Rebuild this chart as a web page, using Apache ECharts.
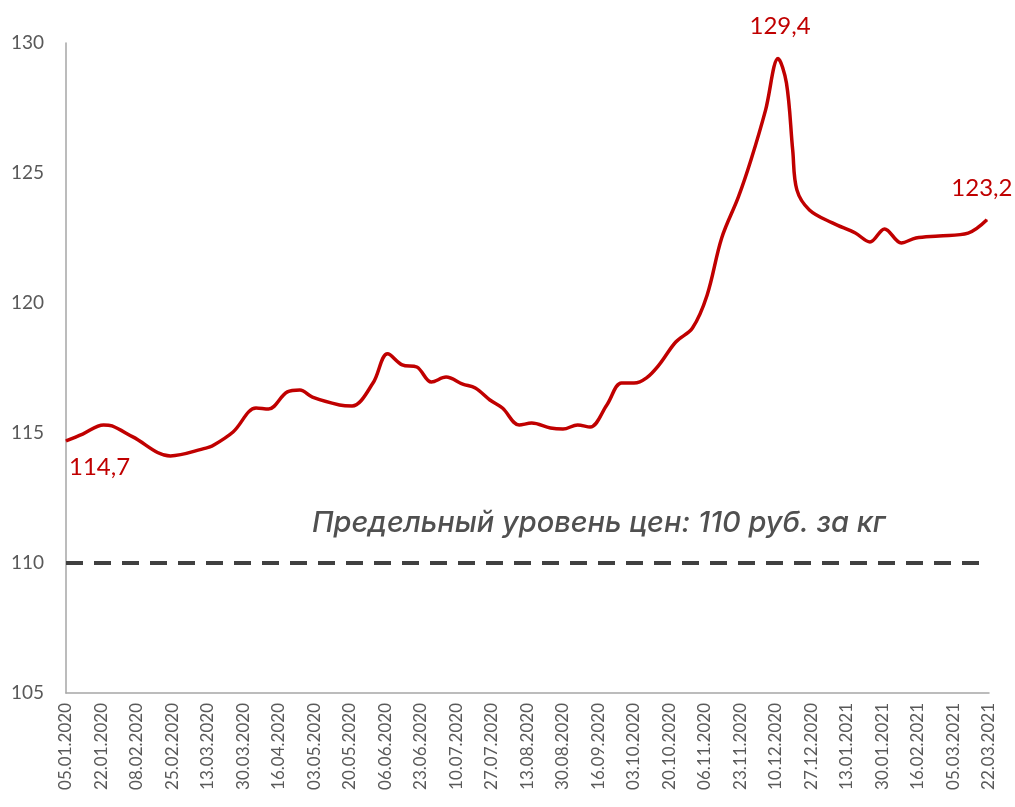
<!DOCTYPE html>
<html>
<head>
    <meta charset="utf-8" />
    <title>Цены на сахар</title>
    <script src="https://cdn.jsdelivr.net/npm/echarts@6/dist/echarts.min.js"></script>
    <style type="text/css">
        html,
        body {
            width: 100%;
            height: 100%;
            margin: 0;
            background: #fff;
        }

        #chart {
            width: 1015px;
            height: 807px;
        }
    </style>
</head>

<body>
    <div id="chart"></div>
    <script>
        // дни от 05.01.2020 и цена, руб./кг
        var days = [0, 8, 18, 22, 32, 50, 67, 70, 80, 91, 97, 106, 112, 118, 131, 137, 147, 154, 161, 168,
            175, 182, 190, 196, 203, 209, 217, 223, 232, 238, 245, 251, 259, 266, 272, 278, 284, 292, 300,
            307, 314, 322, 328, 335, 341, 345, 348, 350, 356, 367, 378, 385, 392, 400, 407, 418, 432, 441];
        var prices = [114.7, 114.96, 115.31, 115.27, 114.85, 114.12, 114.42, 114.5, 115.04, 115.96, 115.92,
            116.58, 116.65, 116.38, 116.08, 116.04, 116.92, 118.05, 117.62, 117.54, 116.96, 117.15, 116.88,
            116.73, 116.27, 115.96, 115.31, 115.38, 115.19, 115.15, 115.31, 115.23, 116.08, 116.92, 116.92,
            117.12, 117.62, 118.5, 119.04, 120.3, 122.5, 124.08, 125.5, 127.42, 129.4, 128.46, 125.88,
            124.35, 123.58, 123.08, 122.69, 122.35, 122.85, 122.31, 122.5, 122.58, 122.69, 123.2];
        var yTicks = [105, 110, 115, 120, 125, 130];
        var limitPrice = 110;
        var startDate = Date.UTC(2020, 0, 5);

        var red = '#C00000';
        var gray = '#595959';

        function fmtDate(v) {
            var d = new Date(startDate + v * 86400000);
            var dd = ('0' + d.getUTCDate()).slice(-2);
            var mm = ('0' + (d.getUTCMonth() + 1)).slice(-2);
            return dd + '.' + mm + '.' + d.getUTCFullYear();
        }

        var peakIdx = prices.indexOf(Math.max.apply(null, prices));
        var lastIdx = prices.length - 1;

        var lineData = days.map(function (d, i) {
            var item = { value: [d, prices[i]] };
            if (i === 0) {
                item.label = { show: true, position: 'bottom', align: 'left', offset: [3, 9] };
            } else if (i === peakIdx) {
                item.label = { show: true, position: 'top', offset: [2, -15] };
            } else if (i === lastIdx) {
                item.label = { show: true, position: 'top', offset: [-5, -14] };
            }
            return item;
        });

        var myChart = echarts.init(document.getElementById('chart'));
        var option = {
            backgroundColor: '#fff',
            animation: false,
            grid: { left: 66, right: 26, top: 43, bottom: 114 },
            xAxis: {
                type: 'value',
                min: 0,
                max: 442,
                interval: 17,
                axisLine: { show: true, lineStyle: { color: '#A6A6A6', width: 1.5 } },
                axisTick: { show: false },
                splitLine: { show: false },
                axisLabel: {
                    rotate: 90,
                    margin: 10,
                    color: gray,
                    fontSize: 17,
                    fontFamily: 'Lato',
                    formatter: fmtDate
                }
            },
            yAxis: {
                type: 'value',
                min: yTicks[0],
                max: yTicks[yTicks.length - 1],
                interval: 5,
                axisLine: { show: true, lineStyle: { color: '#A6A6A6', width: 1.5 } },
                axisTick: { show: false },
                splitLine: { show: false },
                axisLabel: {
                    margin: 22,
                    color: gray,
                    fontSize: 19,
                    fontFamily: 'Lato'
                }
            },
            graphic: [{
                type: 'text',
                left: 312,
                top: 509,
                style: {
                    text: 'Предельный уровень цен: 110 руб. за кг',
                    fill: '#505050',
                    font: 'italic 500 29px Inter'
                }
            }],
            series: [{
                type: 'line',
                data: lineData,
                smooth: 0.35,
                symbol: 'circle',
                symbolSize: 1,
                showAllSymbol: true,
                itemStyle: { color: red },
                lineStyle: { color: red, width: 3.5 },
                label: {
                    show: false,
                    color: red,
                    fontSize: 24,
                    fontFamily: 'Lato',
                    formatter: function (p) {
                        return p.value[1].toFixed(1).replace('.', ',');
                    }
                },
                markLine: {
                    silent: true,
                    symbol: 'none',
                    label: { show: false },
                    lineStyle: { color: '#404040', width: 4, type: [17, 11] },
                    data: [{ yAxis: limitPrice }]
                }
            }]
        };
        myChart.setOption(option);
    </script>
</body>
</html>
